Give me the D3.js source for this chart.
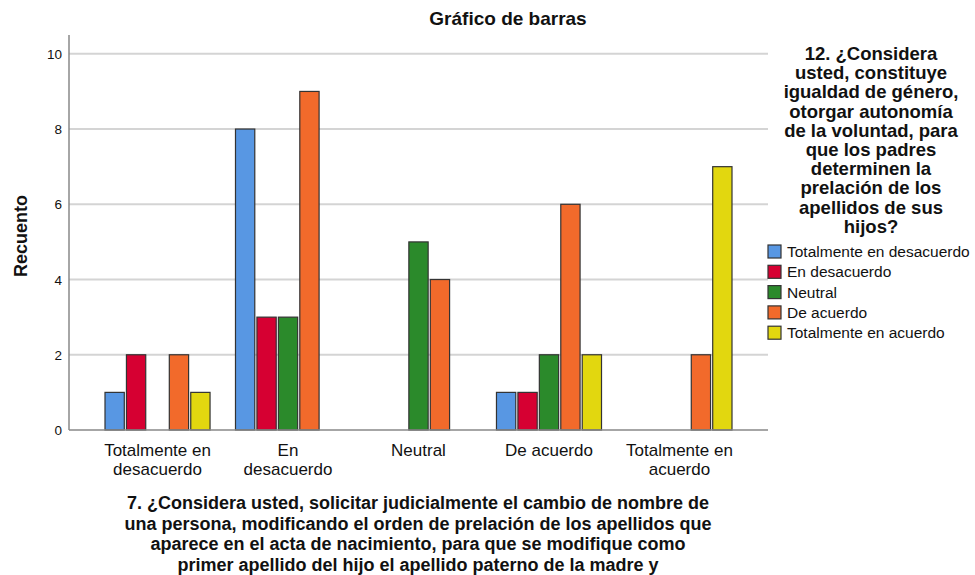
<!DOCTYPE html>
<html>
<head>
<meta charset="utf-8">
<script src="https://cdn.jsdelivr.net/npm/d3@7"></script>
<style>
  body { margin: 0; background: #fff; }
  text { font-family: "Liberation Sans", Arial, sans-serif; fill: #111; }
</style>
</head>
<body>
<svg id="chart" width="975" height="575"></svg>
<script>
// categories on the x axis (answers to question 7)
var categories = ['Totalmente en desacuerdo', 'En desacuerdo', 'Neutral', 'De acuerdo', 'Totalmente en acuerdo'];
var categoryLines = [['Totalmente en', 'desacuerdo'], ['En', 'desacuerdo'], ['Neutral'], ['De acuerdo'], ['Totalmente en', 'acuerdo']];

// series = answers to question 12 (legend)
var seriesNames = ['Totalmente en desacuerdo', 'En desacuerdo', 'Neutral', 'De acuerdo', 'Totalmente en acuerdo'];
var seriesColors = ['#5897e3', '#d60032', '#2b8a2b', '#f26a2b', '#e2d70f'];

// counts per series, one value per category
var totDesacuerdo = [1, 8, 0, 1, 0];
var enDesacuerdo  = [2, 3, 0, 1, 0];
var neutral       = [0, 3, 5, 2, 0];
var deAcuerdo     = [2, 9, 4, 6, 2];
var totAcuerdo    = [1, 0, 0, 2, 7];
var seriesValues = [totDesacuerdo, enDesacuerdo, neutral, deAcuerdo, totAcuerdo];

var yTicks = [0, 2, 4, 6, 8, 10];

var title = 'Gráfico de barras';
var yTitle = 'Recuento';
var legendTitle = ['12. ¿Considera', 'usted, constituye', 'igualdad de género,', 'otorgar autonomía',
  'de la voluntad, para', 'que los padres', 'determinen la', 'prelación de los', 'apellidos de sus', 'hijos?'];
var xTitle = ['7. ¿Considera usted, solicitar judicialmente el cambio de nombre de',
  'una persona, modificando el orden de prelación de los apellidos que',
  'aparece en el acta de nacimiento, para que se modifique como',
  'primer apellido del hijo el apellido paterno de la madre y'];

var svg = d3.select('#chart');
var plot = { left: 69, right: 768, top: 35, bottom: 430 };

var y = d3.scaleLinear().domain([0, 10.5]).range([plot.bottom, plot.top]);
var x0 = d3.scaleBand().domain(categories).range([105, 732]).paddingInner(0.195);
var x1 = d3.scaleBand().domain(d3.range(seriesNames.length)).range([0, x0.bandwidth()]).paddingInner(0.1);

// gridlines
svg.append('g').selectAll('line')
  .data(yTicks.filter(function(t) { return t > 0; }))
  .join('line')
  .attr('x1', plot.left).attr('x2', plot.right)
  .attr('y1', function(d) { return y(d); }).attr('y2', function(d) { return y(d); })
  .attr('stroke', '#d4d4d4').attr('stroke-width', 2);

// bars
var groups = svg.append('g').selectAll('g')
  .data(categories)
  .join('g')
  .attr('transform', function(d) { return 'translate(' + x0(d) + ',0)'; });

groups.selectAll('rect')
  .data(function(d, ci) {
    return seriesValues.map(function(vals, si) { return { s: si, v: vals[ci] }; })
      .filter(function(b) { return b.v > 0; });
  })
  .join('rect')
  .attr('x', function(d) { return x1(d.s); })
  .attr('width', x1.bandwidth())
  .attr('y', function(d) { return y(d.v); })
  .attr('height', function(d) { return y(0) - y(d.v); })
  .attr('fill', function(d) { return seriesColors[d.s]; })
  .attr('stroke', '#333').attr('stroke-width', 1.2);

// axes lines
svg.append('line').attr('x1', plot.left).attr('x2', plot.left)
  .attr('y1', plot.top).attr('y2', plot.bottom).attr('stroke', '#888').attr('stroke-width', 1.5);
svg.append('line').attr('x1', plot.left).attr('x2', plot.right)
  .attr('y1', plot.bottom).attr('y2', plot.bottom).attr('stroke', '#888').attr('stroke-width', 1.5);

// y tick labels
svg.append('g').selectAll('text')
  .data(yTicks)
  .join('text')
  .attr('x', 62).attr('y', function(d) { return y(d) + 5; })
  .attr('text-anchor', 'end').style('font-size', '13.5px')
  .text(function(d) { return d; });

// x tick labels
var xl = svg.append('g').selectAll('text')
  .data(categories)
  .join('text')
  .attr('text-anchor', 'middle').style('font-size', '17px')
  .attr('transform', function(d) { return 'translate(' + (x0(d) + x0.bandwidth() / 2) + ',456)'; });
xl.selectAll('tspan')
  .data(function(d, i) { return categoryLines[i]; })
  .join('tspan')
  .attr('x', 0).attr('dy', function(d, i) { return i ? 19 : 0; })
  .text(function(d) { return d; });

// chart title
svg.append('text').attr('x', 508).attr('y', 25).attr('text-anchor', 'middle')
  .style('font-size', '19px').style('font-weight', 'bold').text(title);

// y title
svg.append('text').attr('transform', 'translate(27,236) rotate(-90)')
  .attr('text-anchor', 'middle').style('font-size', '18px').style('font-weight', 'bold').text(yTitle);

// x title
svg.append('text').attr('text-anchor', 'middle').style('font-size', '18px').style('font-weight', 'bold')
  .selectAll('tspan').data(xTitle).join('tspan')
  .attr('x', 418).attr('y', function(d, i) { return 509 + i * 20.5; })
  .text(function(d) { return d; });

// legend title
svg.append('text').attr('text-anchor', 'middle').style('font-size', '18.5px').style('font-weight', 'bold')
  .selectAll('tspan').data(legendTitle).join('tspan')
  .attr('x', 871).attr('y', function(d, i) { return 60 + i * 19.2; })
  .text(function(d) { return d; });

// legend items
var leg = svg.append('g').selectAll('g')
  .data(seriesNames)
  .join('g')
  .attr('transform', function(d, i) { return 'translate(768,' + (245 + i * 20.3) + ')'; });
leg.append('rect').attr('width', 13).attr('height', 13)
  .attr('fill', function(d, i) { return seriesColors[i]; })
  .attr('stroke', '#333').attr('stroke-width', 1.2);
leg.append('text').attr('x', 19).attr('y', 12).style('font-size', '15.5px')
  .text(function(d) { return d; });
</script>
</body>
</html>
